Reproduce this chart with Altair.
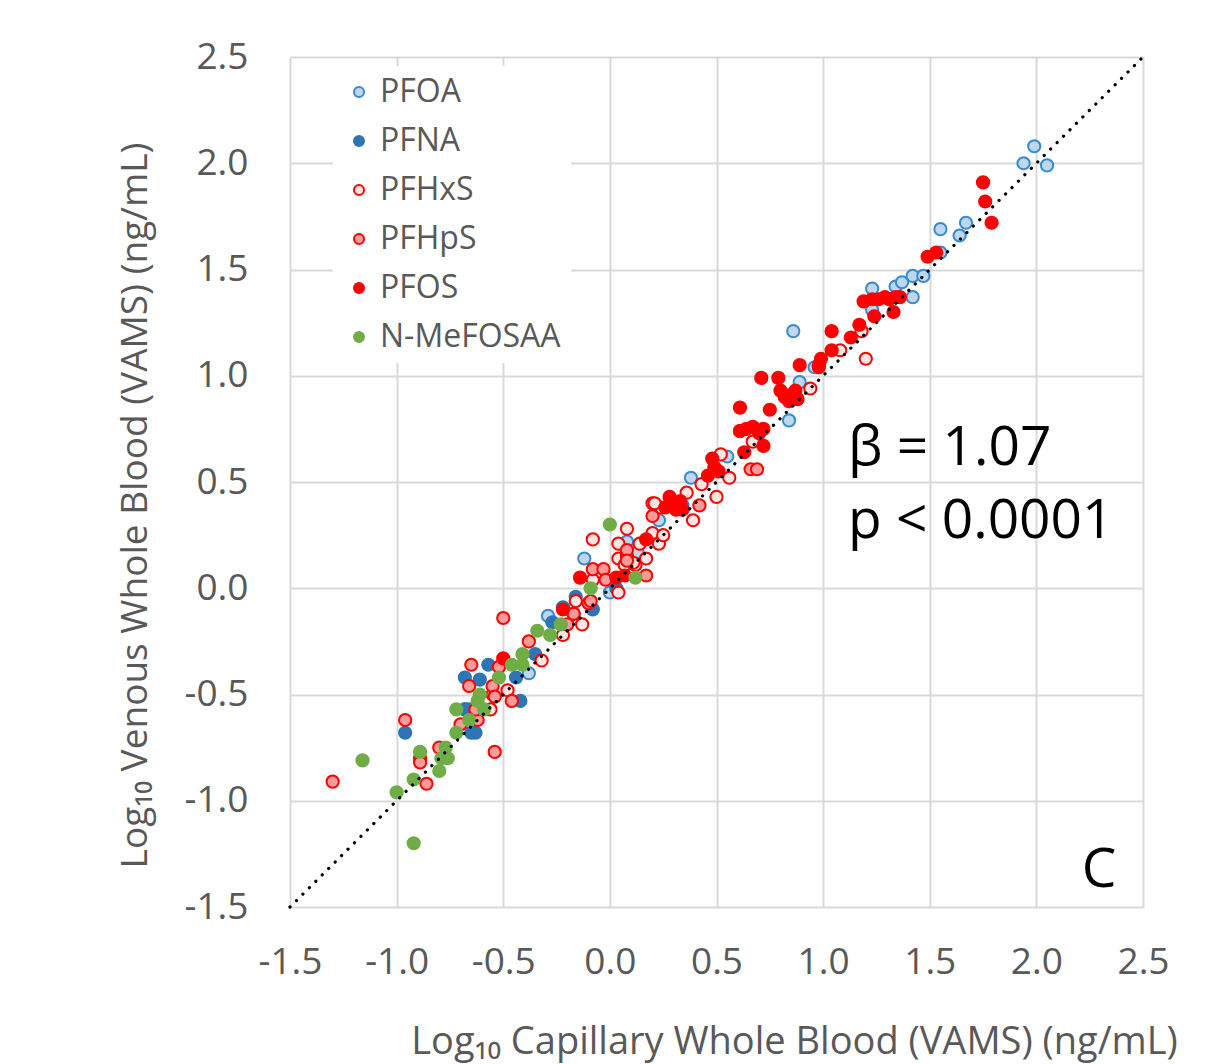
import altair as alt
import pandas as pd

SERIES = ["PFOA", "PFNA", "PFHxS", "PFHpS", "PFOS", "N-MeFOSAA"]
FILLS = ["#BDD7EE", "#2E75B6", "#FFE4E4", "#FF9A9A", "#FF0000", "#70AD47"]
STROKES = ["#3A8AD0", "#2E75B6", "#FF0000", "#FF0000", "#FF0000", "#70AD47"]

pfoa_x = [-0.38, -0.29, -0.12, 0.00, 0.08, 0.13, 0.23, 0.38, 0.55, 0.84, 0.86, 0.89, 0.96,
          1.23, 1.23, 1.34, 1.37, 1.42, 1.47, 1.42, 1.55, 1.64, 1.67, 1.55, 1.94, 1.99, 2.05]
pfoa_y = [-0.40, -0.13, 0.14, -0.02, 0.22, 0.17, 0.32, 0.52, 0.62, 0.79, 1.21, 0.97, 1.04,
          1.41, 1.31, 1.42, 1.44, 1.47, 1.47, 1.37, 1.69, 1.66, 1.72, 1.58, 2.00, 2.08, 1.99]

pfna_x = [-0.96, -0.68, -0.66, -0.65, -0.63, -0.57, -0.68, -0.61, -0.44, -0.42, -0.68, -0.35,
          -0.27, -0.22, -0.16, -0.08, 0.03, 0.34]
pfna_y = [-0.68, -0.57, -0.57, -0.68, -0.68, -0.36, -0.42, -0.43, -0.42, -0.53, -0.57, -0.31,
          -0.16, -0.09, -0.04, -0.10, 0.00, 0.39]

pfhxs_x = [-0.56, -0.48, -0.32, -0.22, -0.13, -0.16, -0.08, -0.08, 0.04, 0.08, 0.04, 0.04,
           0.12, 0.07, 0.17, 0.14, 0.20, 0.23, 0.25, 0.20, 0.24, 0.39, 0.36, 0.43, 0.50, 0.52,
           0.56, 0.61, 0.67, 0.94, 1.08, 1.18, 1.20, 0.08, 0.11, 0.21]
pfhxs_y = [-0.57, -0.48, -0.34, -0.22, -0.17, -0.06, 0.23, 0.04, -0.02, 0.28, 0.21, 0.14,
           0.11, 0.11, 0.14, 0.21, 0.26, 0.21, 0.25, 0.40, 0.38, 0.32, 0.45, 0.49, 0.43, 0.63,
           0.52, 0.74, 0.69, 0.94, 1.12, 1.21, 1.08, 0.15, 0.12, 0.40]

pfhps_x = [-1.30, -0.96, -0.89, -0.89, -0.80, -0.86, -0.70, -0.62, -0.54, -0.55, -0.50, -0.65,
           -0.52, -0.66, -0.55, -0.54, -0.46, -0.63, -0.38, -0.20, -0.17, -0.10, -0.08, -0.03,
           -0.02, 0.17, -0.09, -0.17, 0.08, 0.08, 0.20, 0.42, 0.66, 0.69]
pfhps_y = [-0.91, -0.62, -0.80, -0.82, -0.75, -0.92, -0.64, -0.62, -0.77, -0.50, -0.14, -0.36,
           -0.37, -0.46, -0.46, -0.51, -0.53, -0.57, -0.25, -0.17, -0.12, -0.07, 0.09, 0.09,
           0.04, 0.06, -0.06, -0.12, 0.18, 0.13, 0.34, 0.39, 0.56, 0.56]

pfos_x = [-0.50, -0.22, -0.14, 0.03, 0.07, 0.17, 0.26, 0.28, 0.30, 0.31, 0.33, 0.34, 0.46,
          0.48, 0.49, 0.51, 0.61, 0.61, 0.64, 0.67, 0.70, 0.72, 0.63, 0.72, 0.71, 0.79, 0.75,
          0.80, 0.82, 0.84, 0.85, 0.87, 0.88, 0.89, 0.98, 0.99, 0.98, 1.04, 1.04, 1.13, 1.17,
          1.19, 1.23, 1.26, 1.29, 1.31, 1.34, 1.36, 1.24, 1.33, 1.49, 1.53, 1.75, 1.76, 1.79]
pfos_y = [-0.33, -0.10, 0.05, 0.05, 0.06, 0.23, 0.38, 0.43, 0.40, 0.37, 0.41, 0.37, 0.53,
          0.61, 0.57, 0.55, 0.74, 0.85, 0.75, 0.76, 0.73, 0.75, 0.64, 0.67, 0.99, 0.99, 0.84,
          0.93, 0.90, 0.88, 0.91, 0.93, 0.89, 1.05, 1.05, 1.08, 1.04, 1.12, 1.21, 1.18, 1.24,
          1.35, 1.36, 1.36, 1.37, 1.36, 1.37, 1.37, 1.28, 1.30, 1.56, 1.58, 1.91, 1.82, 1.72]

mefosaa_x = [-1.16, -1.00, -0.92, -0.92, -0.89, -0.77, -0.79, -0.76, -0.80, -0.72, -0.72,
             -0.66, -0.59, -0.61, -0.62, -0.52, -0.46, -0.41, -0.41, -0.34, -0.28, -0.23,
             -0.09, 0.00, 0.12]
mefosaa_y = [-0.81, -0.96, -1.20, -0.90, -0.77, -0.75, -0.80, -0.80, -0.86, -0.68, -0.57,
             -0.62, -0.57, -0.50, -0.53, -0.42, -0.36, -0.31, -0.36, -0.20, -0.22, -0.17,
             0.00, 0.30, 0.05]

TICKS = [-1.5, -1.0, -0.5, 0.0, 0.5, 1.0, 1.5, 2.0, 2.5]
LINE_X = [-1.5, 2.5]
LINE_Y = [-1.5, 2.5]

ANN_TEXT = ["β = 1.07", "p < 0.0001"]
ANN_X = [1.117, 1.117]
ANN_Y = [0.58, 0.236]
PANEL_TEXT = ["C"]
PANEL_X = [2.294]
PANEL_Y = [-1.406]

rows = []
for name, xs, ys in zip(SERIES,
                        [pfoa_x, pfna_x, pfhxs_x, pfhps_x, pfos_x, mefosaa_x],
                        [pfoa_y, pfna_y, pfhxs_y, pfhps_y, pfos_y, mefosaa_y]):
    for a, b in zip(xs, ys):
        rows.append({"series": name, "x": a, "y": b})
df = pd.DataFrame(rows)

df_line = pd.DataFrame({"x": LINE_X, "y": LINE_Y})
df_ann = pd.DataFrame({"x": ANN_X, "y": ANN_Y, "text": ANN_TEXT})
df_panel = pd.DataFrame({"x": PANEL_X, "y": PANEL_Y, "text": PANEL_TEXT})

FONT = "Open Sans"
GREY = "#595959"
LABEL_EXPR = "datum.value < 0 ? '-' + format(-datum.value, '.1f') : format(datum.value, '.1f')"

xscale = alt.Scale(domain=[-1.5, 2.5], nice=False, zero=False)
yscale = alt.Scale(domain=[-1.5, 2.5], nice=False, zero=False)

x_axis = alt.Axis(values=TICKS, grid=True, gridColor="#D9D9D9", gridWidth=2, domain=False,
                  ticks=False, labelExpr=LABEL_EXPR, labelFont=FONT, labelFontSize=37,
                  labelColor=GREY, labelPadding=37, labelFlush=False, labelOverlap=False,
                  title="Log₁₀ Capillary Whole Blood (VAMS) (ng/mL)", titleFont=FONT,
                  titleFontSize=38, titleColor=GREY, titleFontWeight="normal",
                  titleX=504, titleY=146, titleAlign="center", titleBaseline="alphabetic")
y_axis = alt.Axis(values=TICKS, grid=True, gridColor="#D9D9D9", gridWidth=2, domain=False,
                  ticks=False, labelExpr=LABEL_EXPR, labelFont=FONT, labelFontSize=37,
                  labelColor=GREY, labelPadding=42, labelFlush=False, labelOverlap=False,
                  title="Log₁₀ Venous Whole Blood (VAMS) (ng/mL)", titleFont=FONT,
                  titleFontSize=37, titleColor=GREY, titleFontWeight="normal",
                  titleX=-155, titleY=448, titleAlign="center", titleBaseline="middle",
                  titleAngle=270)

legend = alt.Legend(orient="none", legendX=43, legendY=9, fillColor="white", padding=10,
                    title=None, labelFont=FONT, labelFontSize=32, labelColor=GREY,
                    labelLimit=400, symbolSize=100, symbolStrokeWidth=2, symbolType="circle",
                    labelOffset=5, rowPadding=17)

points = alt.Chart(df).mark_circle(size=150, strokeWidth=2, opacity=1).encode(
    x=alt.X("x:Q", scale=xscale, axis=x_axis),
    y=alt.Y("y:Q", scale=yscale, axis=y_axis),
    fill=alt.Fill("series:N", scale=alt.Scale(domain=SERIES, range=FILLS), legend=legend),
    stroke=alt.Stroke("series:N", scale=alt.Scale(domain=SERIES, range=STROKES), legend=legend),
)

line = alt.Chart(df_line).mark_line(color="black", strokeWidth=3.2, strokeDash=[0.1, 9],
                                    strokeCap="round").encode(
    x=alt.X("x:Q", scale=xscale), y=alt.Y("y:Q", scale=yscale))

ann = alt.Chart(df_ann).mark_text(align="left", baseline="alphabetic", font=FONT,
                                  fontSize=55, color="black").encode(
    x=alt.X("x:Q", scale=xscale), y=alt.Y("y:Q", scale=yscale), text="text:N")

panel = alt.Chart(df_panel).mark_text(align="center", baseline="alphabetic", font=FONT,
                                      fontSize=55, color="black").encode(
    x=alt.X("x:Q", scale=xscale), y=alt.Y("y:Q", scale=yscale), text="text:N")

chart = alt.layer(points, line, ann, panel).properties(
    width=853, height=850,
    autosize=alt.AutoSizeParams(type="none"),
    padding={"left": 282, "top": 49, "right": 67, "bottom": 157},
).configure_view(stroke="transparent").configure(background="white")

chart.save("out.html", embed_options={"renderer": "svg", "actions": False})
